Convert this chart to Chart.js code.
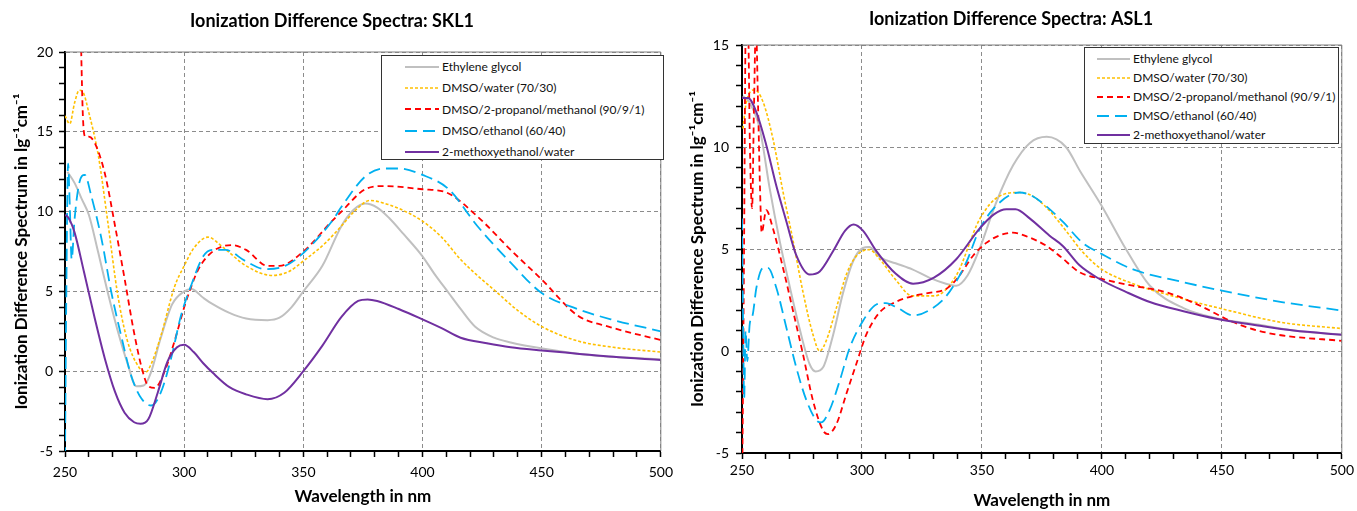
<!DOCTYPE html>
<html lang="en">
<head>
<meta charset="UTF-8">
<title>Ionization Difference Spectra</title>
<script src="https://cdn.jsdelivr.net/npm/chart.js"></script>
<style>
  body { margin: 0; background: #fff; font-family: Lato, sans-serif; }
  .panel { position: absolute; top: 0; height: 511px; }
  #sklPanel { left: 0; width: 680px; }
  #aslPanel { left: 680px; width: 677px; }
  .legend { position: absolute; background: #fff; border: 1.5px solid #333; font-family: Lato, sans-serif; color: #111; box-sizing: border-box; }
  .legend div { white-space: nowrap; display: flex; align-items: center; }
  .legend svg { flex: none; margin-right: 3px; }
</style>
</head>
<body>
<div class="panel" id="sklPanel"><canvas id="sklChart" width="680" height="511"></canvas></div>
<div class="panel" id="aslPanel"><canvas id="aslChart" width="677" height="511"></canvas></div>

<script>
// series names (same for both panels)
var seriesNames = ['Ethylene glycol', 'DMSO/water (70/30)', 'DMSO/2-propanol/methanol (90/9/1)', 'DMSO/ethanol (60/40)', '2-methoxyethanol/water'];

// ---- SKL1 (left) : wavelength (nm) / value pairs ----
var sklGlycolWl = [251, 254, 257, 260, 264, 268, 272, 276, 280, 283, 286, 290, 295, 300, 303, 308, 312, 319, 326, 335, 340, 345, 350, 358, 366, 371, 376, 381, 386, 392, 400, 405, 411, 416, 422, 430, 437, 451, 465, 480, 500];
var sklGlycol = [12.5, 11.8, 10.8, 9.8, 7.4, 4.9, 2.6, 0.6, -0.95, -0.9, -0.1, 2.0, 4.2, 5.0, 5.15, 4.6, 4.2, 3.65, 3.3, 3.2, 3.35, 4.0, 5.0, 6.6, 9.1, 10.1, 10.5, 10.25, 9.6, 8.6, 7.2, 6.1, 4.9, 3.9, 2.8, 2.1, 1.8, 1.4, 1.1, 0.9, 0.75];

var sklWaterWl = [250, 252, 254, 256, 257.5, 260, 264, 268, 272, 276, 281, 284, 286, 290, 296, 300, 304, 310, 316, 326, 337, 344, 350, 359, 366, 372, 378, 382, 390, 400, 408, 416, 423, 430, 440, 450, 465, 480, 500];
var sklWater = [16.0, 15.5, 16.8, 17.6, 17.5, 16.2, 13.5, 9.3, 4.9, 2.0, 0.25, -0.05, 0.4, 2.1, 5.3, 6.6, 7.7, 8.4, 7.8, 6.6, 6.0, 6.25, 6.9, 8.0, 9.1, 10.1, 10.7, 10.6, 10.2, 9.4, 8.4, 7.0, 6.0, 5.1, 3.8, 2.8, 1.9, 1.5, 1.2];

var sklPropWl = [256.5, 257.5, 258.5, 260, 262.5, 266.7, 271, 275, 279, 282.3, 284.8, 287.6, 291.7, 296, 300, 302, 306, 312, 320, 326, 335, 340, 350, 362, 366, 376, 384, 400, 410, 423, 437, 450, 465, 479, 500];
var sklProp = [22, 16, 14.7, 14.7, 14.3, 12.4, 9.1, 5.8, 2.4, 0.15, -0.9, -1.05, -0.05, 1.9, 4.0, 4.9, 6.4, 7.5, 7.9, 7.6, 6.6, 6.6, 7.5, 9.4, 10.0, 11.4, 11.6, 11.4, 11.2, 9.7, 7.6, 5.75, 3.5, 2.75, 1.95];

var sklEthWl = [250, 250.5, 251.3, 252, 252.8, 254, 256, 258.3, 261, 265.3, 269.5, 273.6, 277.8, 282, 286.2, 290.3, 294.5, 298.7, 303, 308, 312, 317.4, 325.7, 334, 342.4, 350, 362, 366, 376, 384, 390, 400, 411, 423, 437, 450, 465, 479, 500];
var sklEth = [-5.5, 4, 13, 10.4, 7.0, 9.5, 11.8, 12.3, 11.0, 8.3, 4.9, 2.2, -0.3, -1.7, -2.15, -1.3, 0.8, 3.5, 5.4, 7.2, 7.6, 7.6, 6.9, 6.4, 6.6, 7.4, 9.4, 10.3, 12.2, 12.7, 12.7, 12.3, 11.4, 9.1, 6.8, 4.9, 3.9, 3.25, 2.5];

var sklMethWl = [250, 251.5, 254, 258, 262.5, 266.7, 271, 275, 279, 281.7, 285, 289, 293, 297, 300, 304, 308, 312, 319, 326, 335, 342, 350, 358, 366, 373, 377, 381, 390, 400, 408, 416, 427, 437, 450, 465, 480, 500];
var sklMeth = [9.8, 9.6, 8.7, 6.2, 3.3, 0.8, -1.3, -2.6, -3.2, -3.3, -3.0, -1.3, 0.6, 1.5, 1.65, 1.2, 0.5, -0.1, -1.0, -1.45, -1.75, -1.35, 0.0, 1.6, 3.4, 4.4, 4.5, 4.4, 3.9, 3.25, 2.7, 2.1, 1.75, 1.5, 1.3, 1.1, 0.9, 0.7];

// ---- ASL1 (right) ----
var aslGlycolWl = [250.4, 253, 257.4, 261.5, 265.7, 270, 274, 278.2, 280.7, 283.8, 288, 292, 296.3, 300.4, 303, 307.4, 314, 321, 328, 335, 339.3, 344, 349, 356, 363, 370, 377, 385, 391, 400, 410, 420, 434, 448, 465, 480, 500];
var aslGlycol = [12.5, 12.2, 10.9, 8.0, 5.4, 3.1, 1.1, -0.65, -1.0, -0.8, 0.8, 2.8, 4.4, 5.05, 5.1, 4.6, 4.3, 4.0, 3.6, 3.3, 3.2, 3.7, 5.0, 7.3, 9.1, 10.2, 10.5, 10.0, 8.8, 7.1, 5.0, 3.2, 2.1, 1.6, 1.3, 1.0, 0.8];

var aslWaterWl = [250.4, 251.8, 255.3, 258.8, 262.9, 267.1, 271.3, 275.4, 279.6, 282.4, 285.1, 289.3, 293.5, 297.6, 303, 307.4, 314, 321, 330, 339.3, 349, 357.4, 365.7, 371, 378, 385, 392, 400, 413, 434, 450, 475, 500];
var aslWater = [10.9, 12.2, 12.8, 12.2, 10.4, 7.8, 5.4, 2.9, 0.8, 0.0, 0.5, 2.1, 3.75, 4.65, 4.97, 4.5, 3.5, 2.7, 2.7, 3.7, 6.45, 7.6, 7.77, 7.6, 6.9, 5.9, 4.85, 4.0, 3.3, 2.55, 2.07, 1.4, 1.1];

var aslPropWl = [250, 250.8, 251.6, 252.5, 253.3, 254.2, 255, 255.8, 256.7, 257.5, 258.2, 260.1, 262.9, 267.1, 271.3, 275.4, 279.6, 283.8, 285.8, 289.3, 293.5, 297.6, 301.8, 307.4, 314, 321.3, 328, 335.2, 340, 346.3, 351.8, 357, 362.9, 369, 376.8, 383, 390.7, 400, 412.9, 426.8, 440.7, 454.6, 465, 475.4, 500];
var aslProp = [-8, 4, 16, 16, 10, 7, 12, 16, 12, 8, 5.8, 6.9, 6.0, 4.07, 1.95, -0.15, -2.44, -3.9, -4.07, -3.6, -2.1, -0.65, 0.8, 1.9, 2.4, 2.7, 2.85, 3.05, 3.6, 4.67, 5.3, 5.65, 5.8, 5.6, 5.16, 4.6, 3.86, 3.53, 3.2, 2.88, 2.23, 1.42, 1.0, 0.76, 0.5];

var aslEthWl = [250, 250.4, 250.9, 251.5, 252.2, 253.2, 254.5, 256, 258.8, 260.8, 264.3, 268.5, 272.6, 276.8, 281, 283, 286.5, 290.7, 294.9, 300.4, 306, 310, 315, 321.3, 328, 335.2, 343.5, 349, 357.4, 365.7, 371, 376.8, 384, 392, 400, 413, 434, 450, 475, 500];
var aslEth = [6.5, 2, -2.3, 1.0, -0.5, 1.3, 1.8, 3.1, 4.07, 4.07, 3.1, 1.14, -0.8, -2.4, -3.4, -3.5, -2.9, -1.47, 0.16, 1.47, 2.28, 2.35, 2.1, 1.74, 2.0, 2.7, 4.35, 5.97, 7.28, 7.77, 7.6, 7.1, 6.3, 5.3, 4.75, 4.0, 3.37, 2.96, 2.4, 1.98];

var aslMethWl = [250, 252.5, 256, 260.1, 264.3, 268.5, 272.6, 278.2, 282.4, 288, 293, 296.5, 300.4, 306, 314, 321.3, 330, 339.3, 349, 355, 360.2, 364, 369.9, 378.2, 383.7, 390.7, 399, 410, 420, 434, 447.7, 465, 480, 500];
var aslMeth = [12.4, 12.4, 11.7, 10.1, 8.1, 6.35, 4.7, 3.75, 3.9, 4.9, 5.9, 6.2, 5.9, 4.9, 3.8, 3.3, 3.6, 4.5, 6.0, 6.7, 6.95, 6.95, 6.5, 5.65, 5.15, 4.2, 3.53, 2.9, 2.4, 1.95, 1.58, 1.25, 1.0, 0.8];

// line styles: gray solid, yellow short dash, red dash, blue long dash, purple solid
var lineColors = ['#c0c0c0', '#ffc000', '#ff0000', '#00b0f0', '#7030a0'];
var lineDashes = [[], [3, 2], [6, 4], [12, 6], []];
var lineWidths = [2, 1.6, 1.8, 1.8, 2];

function makeDatasets(wls, vals) {
    return vals.map(function (v, i) {
        return {
            label: seriesNames[i],
            data: wls[i].map(function (x, j) { return { x: x, y: v[j] }; }),
            borderColor: lineColors[i],
            borderDash: lineDashes[i],
            borderWidth: lineWidths[i],
            pointRadius: 0,
            fill: false,
            cubicInterpolationMode: 'monotone'
        };
    }).reverse(); // dataset 0 is painted last, so purple ends on top
}

// thin gray frame on top and right of the plot area
var framePlugin = {
    id: 'frame',
    afterDraw: function (chart) {
        var a = chart.chartArea, c = chart.ctx;
        c.save();
        c.strokeStyle = '#7f7f7f';
        c.lineWidth = 1;
        c.beginPath();
        c.moveTo(a.left, a.top);
        c.lineTo(a.right, a.top);
        c.lineTo(a.right, a.bottom);
        c.stroke();
        c.restore();
    }
};

function makeChart(id, title, wls, vals, cfg) {
    var ctx = document.getElementById(id).getContext('2d');
    return new Chart(ctx, {
        type: 'line',
        data: { datasets: makeDatasets(wls, vals) },
        plugins: [framePlugin],
        options: {
            responsive: false,
            animation: false,
            layout: { padding: { left: 0, right: cfg.padRight, top: 0, bottom: 0 } },
            plugins: {
                legend: { display: false },
                tooltip: { enabled: false },
                title: {
                    display: true,
                    text: title,
                    color: '#000',
                    font: { family: 'Lato', size: 18, weight: 'bold' },
                    padding: { top: cfg.titleTop, bottom: cfg.titleBottom }
                }
            },
            scales: {
                x: {
                    type: 'linear',
                    min: 250, max: 500,
                    afterFit: function (s) { s.height = cfg.xHeight; },
                    ticks: {
                        stepSize: 10, autoSkip: false, maxRotation: 0,
                        padding: cfg.xTickPad, color: '#000',
                        font: { family: 'Lato', size: 14 },
                        callback: function (v) { return v % 50 === 0 ? v : ''; }
                    },
                    grid: {
                        color: function (c) { return c.tick && c.tick.value % 50 === 0 ? '#8c8c8c' : 'rgba(0,0,0,0)'; },
                        tickColor: '#000', tickLength: 6, tickWidth: 1.5, lineWidth: 1
                    },
                    border: { color: '#000', width: 2, dash: [4, 3] },
                    title: {
                        display: true, text: 'Wavelength in nm', color: '#000',
                        font: { family: 'Lato', size: 17, weight: 'bold' },
                        padding: { top: 0, bottom: cfg.xTitlePad }
                    }
                },
                y: {
                    min: cfg.yMin, max: cfg.yMax,
                    afterFit: function (s) { s.width = cfg.yWidth; },
                    ticks: {
                        stepSize: 1, autoSkip: false,
                        padding: cfg.yTickPad, color: '#000',
                        font: { family: 'Lato', size: 14 },
                        callback: function (v) { return v % 5 === 0 ? v : ''; }
                    },
                    grid: {
                        color: function (c) { return c.tick && c.tick.value % 5 === 0 ? '#8c8c8c' : 'rgba(0,0,0,0)'; },
                        tickColor: '#000', tickLength: 6, tickWidth: 1.5, lineWidth: 1
                    },
                    border: { color: '#000', width: 2, dash: [4, 3] },
                    title: {
                        display: true, text: 'Ionization Difference Spectrum in lg\u207B\u00B9cm\u207B\u00B9', color: '#000',
                        font: { family: 'Lato', size: 17, weight: 'bold' },
                        padding: { top: cfg.yTitlePad, bottom: 0 }
                    }
                }
            }
        }
    });
}

makeChart('sklChart', 'Ionization Difference Spectra: SKL1',
    [sklGlycolWl, sklWaterWl, sklPropWl, sklEthWl, sklMethWl],
    [sklGlycol, sklWater, sklProp, sklEth, sklMeth],
    { padRight: 16, titleTop: 10, titleBottom: 20.4, xHeight: 60, yWidth: 65, xTickPad: 7, yTickPad: 6, xTitlePad: 4, yTitlePad: 11, yMin: -5, yMax: 20 });

makeChart('aslChart', 'Ionization Difference Spectra: ASL1',
    [aslGlycolWl, aslWaterWl, aslPropWl, aslEthWl, aslMethWl],
    [aslGlycol, aslWater, aslProp, aslEth, aslMeth],
    { padRight: 15, titleTop: 8, titleBottom: 15.4, xHeight: 58, yWidth: 62, xTickPad: 3, yTickPad: 7, xTitlePad: 0, yTitlePad: 7, yMin: -5, yMax: 15 });

// legends drawn as HTML boxes inside the plot areas
function makeLegend(panelId, box) {
    var el = document.createElement('div');
    el.className = 'legend';
    el.style.left = box.left + 'px';
    el.style.top = box.top + 'px';
    el.style.width = box.width + 'px';
    el.style.height = box.height + 'px';
    el.style.paddingLeft = box.indent + 'px';
    el.style.paddingTop = box.padTop + 'px';
    el.style.fontSize = box.fontSize + 'px';
    seriesNames.forEach(function (name, i) {
        var row = document.createElement('div');
        row.style.height = box.rowH + 'px';
        var sw = box.sample;
        row.innerHTML = '<svg width="' + sw + '" height="6"><line x1="0" y1="3" x2="' + sw + '" y2="3" stroke="' + lineColors[i] +
            '" stroke-width="' + lineWidths[i] + '" stroke-dasharray="' + (lineDashes[i].join(',') || 'none') + '"/></svg><span>' + name + '</span>';
        el.appendChild(row);
    });
    document.getElementById(panelId).appendChild(el);
}

makeLegend('sklPanel', { left: 381, top: 55, width: 283, height: 105, indent: 23, padTop: 0, rowH: 21.3, sample: 34, fontSize: 12 });
makeLegend('aslPanel', { left: 404, top: 47, width: 255, height: 97, indent: 12, padTop: 1, rowH: 19, sample: 33, fontSize: 12 });
</script>
</body>
</html>
